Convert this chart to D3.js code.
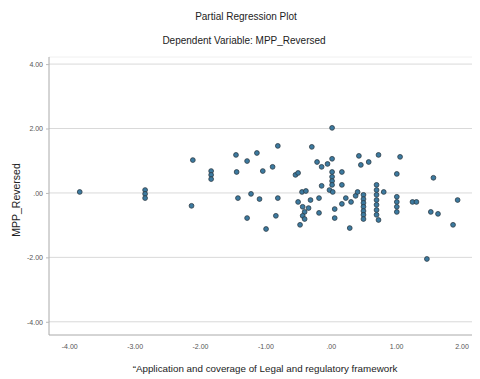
<!DOCTYPE html>
<html><head><meta charset="utf-8">
<script src="https://cdn.jsdelivr.net/npm/d3@7"></script>
<style>body{margin:0;background:#fff;}svg{display:block;font-family:"Liberation Sans",Arial,sans-serif;}</style>
</head><body><svg id="c" width="480" height="379"></svg>
<script>
const title = "Partial Regression Plot";
const subtitle = "Dependent Variable: MPP_Reversed";
const xLabel = "\u201CApplication and coverage of Legal and regulatory framework";
const yLabel = "MPP_Reversed";
const xTicks = [-4, -3, -2, -1, 0, 1, 2];
const xTickLabels = ["-4.00", "-3.00", "-2.00", "-1.00", ".00", "1.00", "2.00"];
const yTicks = [-4, -2, 0, 2, 4];
const yTickLabels = ["-4.00", "-2.00", ".00", "2.00", "4.00"];
const xValues = [-3.84,-2.84,-2.84,-2.84,-2.11,-2.13,-1.83,-1.83,-1.83,-1.45,-1.28,-1.13,-1.44,-1.04,-1.42,-1.22,-1.09,-1.28,-0.99,-0.81,-0.89,-0.81,-0.84,
 -0.29,-0.21,-0.14,-0.05,0.02,0.02,-0.54,-0.50,0.02,0.02,0.02,0.02,-0.14,-0.02,0.03,0.17,0.17,-0.44,-0.38,-0.31,-0.18,-0.50,-0.43,-0.34,-0.40,-0.43,-0.40,-0.47,-0.18,0.06,0.06,0.17,0.23,0.31,0.29,0.38,0.41,
 0.43,0.46,0.58,0.73,1.06,1.01,1.57,
 0.50,0.50,0.50,0.50,0.50,0.50,0.50,
 0.70,0.70,0.70,0.70,0.70,0.70,0.70,
 0.73,0.81,1.01,1.01,1.01,1.01,1.25,1.31,1.53,1.64,1.94,1.87,1.47];
const yValues = [0.03,0.09,-0.03,-0.16,1.02,-0.40,0.68,0.56,0.43,1.18,0.99,1.24,0.65,0.68,-0.16,-0.03,-0.19,-0.78,-1.12,1.46,0.81,-0.16,-0.71,
 1.43,0.96,0.81,0.90,1.06,2.02,0.56,0.62,0.65,0.50,0.37,0.25,0.22,0.09,0.03,0.65,0.25,0.03,0.06,-0.22,-0.16,-0.28,-0.43,-0.47,-0.59,-0.71,-0.81,-0.99,-0.62,-0.50,-0.78,-0.34,-0.16,-0.28,-1.09,-0.09,0.03,
 1.15,0.87,0.96,1.18,1.12,0.59,0.47,
 -0.06,-0.19,-0.31,-0.43,-0.56,-0.68,-0.81,
 0.25,0.09,-0.06,-0.22,-0.37,-0.53,-0.68,
 -0.84,0.03,-0.12,-0.28,-0.43,-0.59,-0.28,-0.28,-0.59,-0.65,-0.22,-0.99,-2.05];

const W = 480, H = 379;
const m = {left: 49, right: 8, top: 57, bottom: 44};
const svg = d3.select("#c");
const x = d3.scaleLinear().domain([-4.31, 2.16]).range([m.left, W - m.right]);
const y = d3.scaleLinear().domain([-4.41, 4.22]).range([H - m.bottom, m.top]);

svg.append("text").attr("x", 246).attr("y", 20).attr("text-anchor", "middle")
  .attr("font-size", 10).attr("fill", "#222").text(title);
svg.append("text").attr("x", 244).attr("y", 44).attr("text-anchor", "middle")
  .attr("font-size", 10).attr("fill", "#222").text(subtitle);

// top faint border
svg.append("line").attr("x1", m.left).attr("x2", W - m.right).attr("y1", m.top).attr("y2", m.top)
  .attr("stroke", "#f0f0f0");

// gridlines
svg.append("g").selectAll("line").data(yTicks).join("line")
  .attr("x1", m.left).attr("x2", W - m.right)
  .attr("y1", d => y(d)).attr("y2", d => y(d))
  .attr("stroke", "#d9d9d9").attr("stroke-width", 1);

// axes
const yAxis = d3.axisLeft(y).tickValues(yTicks).tickFormat((d, i) => yTickLabels[i]).tickSize(3).tickPadding(3);
const gy = svg.append("g").attr("transform", `translate(${m.left},0)`).call(yAxis);
const xAxis = d3.axisBottom(x).tickValues(xTicks).tickFormat((d, i) => xTickLabels[i]).tickSize(0).tickPadding(9);
const gx = svg.append("g").attr("transform", `translate(0,${H - m.bottom})`).call(xAxis);
[gx, gy].forEach(g => {
  g.select(".domain").attr("stroke", "#aaa");
  g.selectAll(".tick line").attr("stroke", "#bbb");
  g.selectAll(".tick text").attr("font-size", 7).attr("fill", "#555").attr("font-family", "Liberation Sans, Arial, sans-serif");
});
gy.select(".domain").attr("d", `M0,${m.top}V${H - m.bottom}`);
gx.select(".domain").attr("d", `M${m.left},0H${W - m.right}`);

svg.append("text").attr("x", 265).attr("y", 372).attr("text-anchor", "middle")
  .attr("font-size", 9.8).attr("fill", "#222").text(xLabel);
svg.append("text").attr("transform", "translate(20,200) rotate(-90)").attr("text-anchor", "middle")
  .attr("font-size", 10.5).attr("fill", "#222").text(yLabel);

const pts = xValues.map((v, i) => ({x: v, y: yValues[i]}));
svg.append("g").selectAll("circle").data(pts).join("circle")
  .attr("cx", d => x(d.x)).attr("cy", d => y(d.y)).attr("r", 2.4)
  .attr("fill", "#3c7aa0").attr("stroke", "#2b3a44").attr("stroke-width", 0.8);
</script></body></html>
